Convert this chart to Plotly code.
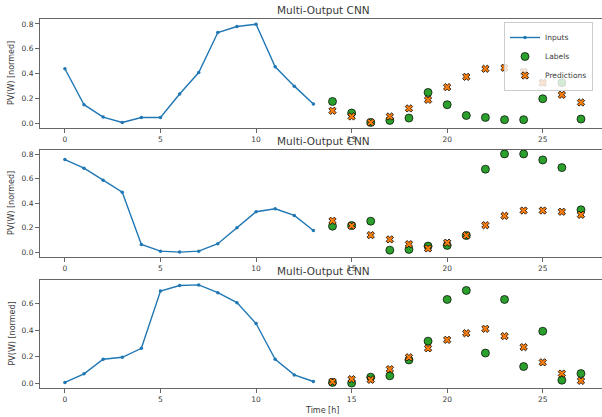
import plotly.graph_objects as go

# ---- data ----
input_steps = list(range(0, 14))
label_steps = list(range(14, 28))

inputs_1 = [0.438, 0.148, 0.048, 0.005, 0.045, 0.045, 0.234, 0.408, 0.731, 0.779, 0.798, 0.454, 0.298, 0.153]
labels_1 = [0.174, 0.081, 0.005, 0.021, 0.040, 0.247, 0.148, 0.061, 0.045, 0.027, 0.027, 0.196, 0.325, 0.032]
preds_1 = [0.099, 0.053, 0.005, 0.053, 0.118, 0.188, 0.290, 0.373, 0.438, 0.446, 0.414, 0.325, 0.228, 0.166]

inputs_2 = [0.757, 0.686, 0.588, 0.490, 0.063, 0.008, 0.000, 0.008, 0.069, 0.199, 0.330, 0.354, 0.300, 0.177]
labels_2 = [0.212, 0.218, 0.253, 0.016, 0.022, 0.049, 0.055, 0.136, 0.678, 0.803, 0.803, 0.754, 0.691, 0.346]
preds_2 = [0.256, 0.215, 0.139, 0.104, 0.065, 0.030, 0.077, 0.136, 0.220, 0.297, 0.340, 0.340, 0.330, 0.305]

inputs_3 = [0.005, 0.070, 0.180, 0.195, 0.263, 0.695, 0.737, 0.742, 0.683, 0.608, 0.450, 0.180, 0.062, 0.012]
labels_3 = [0.005, 0.000, 0.045, 0.055, 0.175, 0.317, 0.632, 0.700, 0.227, 0.632, 0.125, 0.392, 0.022, 0.072]
preds_3 = [0.010, 0.030, 0.025, 0.105, 0.195, 0.263, 0.327, 0.377, 0.410, 0.355, 0.272, 0.157, 0.072, 0.017]

panels = [(inputs_1, labels_1, preds_1), (inputs_2, labels_2, preds_2), (inputs_3, labels_3, preds_3)]
y_ranges = [[-0.040, 0.840], [-0.040, 0.835], [-0.037, 0.779]]

x_tick_vals = [0, 5, 10, 15, 20, 25]
title_text = "Multi-Output CNN"
y_label = "PV(W) [normed]"
x_label = "Time [h]"

# ---- figure ----
W, H = 602, 417
FONT = "DejaVu Sans"
TXT = "#3a3a3a"
SPINE = "#666666"

# panel pixel extents (top, bottom)
panel_px = [(19, 128), (150, 257), (280, 388)]
x_dom = [39.5 / W, 1.0]

fig = go.Figure()
layout = dict(
    width=W, height=H,
    margin=dict(l=0, r=0, t=0, b=0),
    paper_bgcolor="white", plot_bgcolor="white",
    font=dict(family=FONT, size=8, color=TXT),
    showlegend=True,
    legend=dict(
        x=593 / W, xanchor="right", y=1 - 22 / H, yanchor="top",
        bgcolor="rgba(255,255,255,0.8)", bordercolor="#cccccc", borderwidth=1,
        font=dict(family=FONT, size=7.5, color=TXT),
        itemwidth=30, tracegroupgap=0,
    ),
)
annotations = []

for i, (inp, lab, pre) in enumerate(panels):
    n = i + 1
    xa = "x" if n == 1 else f"x{n}"
    ya = "y" if n == 1 else f"y{n}"
    show = n == 1
    fig.add_trace(go.Scatter(
        x=input_steps, y=inp, mode="lines+markers", name="Inputs",
        line=dict(color="#1f77b4", width=1.4),
        marker=dict(color="#1f77b4", size=3.5),
        xaxis=xa, yaxis=ya, showlegend=show, legendrank=1,
    ))
    fig.add_trace(go.Scatter(
        x=label_steps, y=lab, mode="markers", name="Labels",
        marker=dict(color="#2ca02c", size=8, symbol="circle",
                    line=dict(color="#000000", width=0.7)),
        xaxis=xa, yaxis=ya, showlegend=show, legendrank=2,
    ))
    fig.add_trace(go.Scatter(
        x=label_steps, y=pre, mode="markers", name="Predictions",
        marker=dict(color="#ff7f0e", size=6.5, symbol="x",
                    line=dict(color="#000000", width=0.8)),
        xaxis=xa, yaxis=ya, showlegend=show, legendrank=3,
    ))

    top, bot = panel_px[i]
    ydom = [1 - bot / H, 1 - top / H]
    xkey = "xaxis" if n == 1 else f"xaxis{n}"
    ykey = "yaxis" if n == 1 else f"yaxis{n}"
    layout[xkey] = dict(
        domain=x_dom, anchor=ya, range=[-1.33, 28.1],
        tickvals=x_tick_vals, ticks="outside", ticklen=3.5, tickwidth=1,
        tickcolor=SPINE, showline=True, linecolor=SPINE, linewidth=1,
        mirror=True, showgrid=False, zeroline=False,
        tickfont=dict(family=FONT, size=7.5, color=TXT),
    )
    layout[ykey] = dict(
        domain=ydom, anchor=xa, range=y_ranges[i],
        dtick=0.2, tick0=0, tickformat=".1f",
        ticks="outside", ticklen=3.5, tickwidth=1, tickcolor=SPINE,
        showline=True, linecolor=SPINE, linewidth=1, mirror=False,
        showgrid=False, zeroline=False,
        tickfont=dict(family=FONT, size=7.5, color=TXT),
    )
    annotations.append(dict(
        text=title_text, xref="paper", yref="paper",
        x=323 / W, y=ydom[1], xanchor="center", yanchor="bottom", yshift=1,
        showarrow=False, font=dict(family=FONT, size=10.5, color=TXT),
    ))
    annotations.append(dict(
        text=y_label, xref="paper", yref="paper",
        x=11.5 / W, y=(ydom[0] + ydom[1]) / 2, xanchor="center", yanchor="middle",
        textangle=-90, showarrow=False, font=dict(family=FONT, size=8, color=TXT),
    ))

annotations.append(dict(
    text=x_label, xref="paper", yref="paper",
    x=322 / W, y=1 - 410 / H, xanchor="center", yanchor="middle",
    showarrow=False, font=dict(family=FONT, size=8, color=TXT),
))
layout["annotations"] = annotations
fig.update_layout(**layout)

fig.write_html("out.html")
